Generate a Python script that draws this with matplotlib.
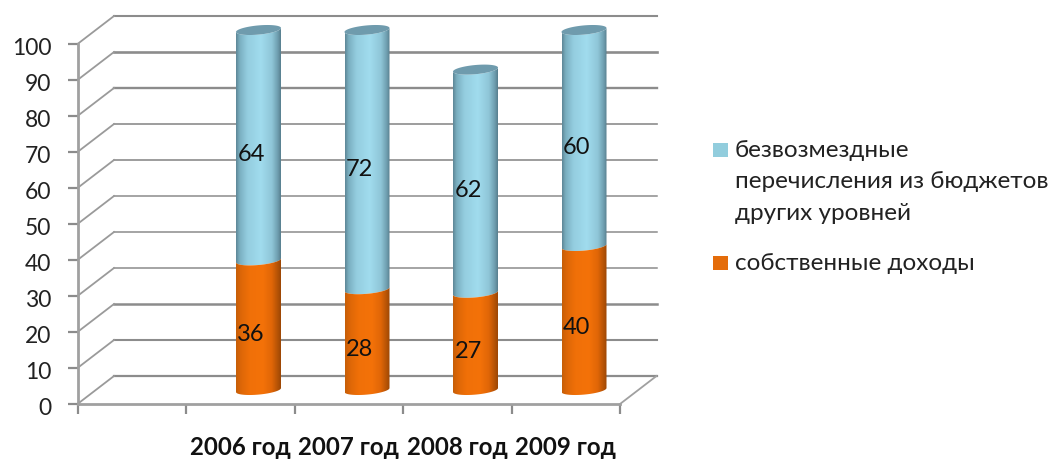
import numpy as np
import matplotlib
matplotlib.use("Agg")
import matplotlib.pyplot as plt
from matplotlib.colors import LinearSegmentedColormap
from matplotlib.patches import Polygon, Rectangle
from matplotlib.transforms import ScaledTranslation

plt.rcParams['font.family'] = ['Lato', 'Open Sans', 'DejaVu Sans']

years = ["2006 год", "2007 год", "2008 год", "2009 год"]
own_income = [36, 28, 27, 40]
transfers = [64, 72, 62, 60]
y_ticks = list(range(0, 101, 10))
transfers_label = "безвозмездные\nперечисления из бюджетов\nдругих уровней"
own_label = "собственные доходы"

W, H = 1053, 459
fig = plt.figure(figsize=(W / 100, H / 100), dpi=100)
# передняя плоскость диаграммы, в пикселях: x 77.5-620, y 44-404
ax = fig.add_axes([77.5 / W, 1 - 404 / H, 542.5 / W, 360 / H])
ax.set_xlim(0, 5)
ax.set_ylim(0, 100)
ax.patch.set_visible(False)

# глубина 3D в единицах данных
depth_x = 36.5 / 108.5
depth_y = 28 / 3.6

grid_col = "#8c8c8c"
grid_w = [1.6, 1.5, 1.8, 1.1, 1.1, 1.1, 1.2, 1.2, 1.7, 1.9, 1.5]
for v, lw in zip(y_ticks, grid_w):
    ax.plot([depth_x, 5 + depth_x], [v + depth_y, v + depth_y],
            color=grid_col, lw=lw, clip_on=False, zorder=1)
    ax.plot([0, depth_x], [v, v + depth_y], color="#9a9a9a", lw=1.3, clip_on=False, zorder=1)
ax.plot([5, 5 + depth_x], [0, depth_y], color="#a0a0a0", lw=1.3, clip_on=False, zorder=1)

for side in ["top", "right"]:
    ax.spines[side].set_visible(False)
for side in ["left", "bottom"]:
    ax.spines[side].set_color("#a0a0a0")
    ax.spines[side].set_linewidth(2)

ax.set_yticks(y_ticks)
ax.tick_params(axis="y", length=7, width=1.6, color="#8c8c8c", pad=12, labelsize=16.5, labelcolor="#222222")
# подписи оси y чуть ниже делений
for lab in ax.get_yticklabels():
    lab.set_transform(lab.get_transform() + ScaledTranslation(0, -2.5 / 100, fig.dpi_scale_trans))
ax.set_xticks(np.arange(len(years)) + 1.5)
ax.set_xticklabels(years, fontweight="bold", fontsize=17.3, color="#111111")
ax.tick_params(axis="x", which="major", length=0, pad=23)
ax.set_xticks(np.arange(6), minor=True)
ax.tick_params(axis="x", which="minor", length=7, width=1.6, color="#8c8c8c")

blue_cm = LinearSegmentedColormap.from_list("b", [(0, "#5e8797"), (.08, "#7aafc0"), (.25, "#94cddf"),
                                                  (.55, "#a1dcee"), (.8, "#8fc6d8"), (.93, "#6f9fb0"), (1, "#587f8f")])
orange_cm = LinearSegmentedColormap.from_list("o", [(0, "#c65e08"), (.1, "#dc6607"), (.3, "#f07008"),
                                                    (.6, "#f47209"), (.8, "#e06607"), (.92, "#b85406"), (1, "#9c4705")])
ramp = np.linspace(0, 1, 128).reshape(1, -1)

rx = 22.5 / 108.5
ry = 4.6 / 3.6
tilt = 0.55


def arc(xc, yc, t):
    return np.column_stack([xc + rx * np.cos(t), yc + ry * np.sin(t) + tilt * np.cos(t)])


def cylinder(xc, y0, y1, cmap):
    # нижняя дуга снизу и передняя дуга сверху
    t = np.linspace(np.pi, 2 * np.pi, 40)
    outline = np.vstack([arc(xc, y0, t), arc(xc, y1, t[::-1])])
    im = ax.imshow(ramp, cmap=cmap, aspect="auto", zorder=3, vmin=0, vmax=1,
                   extent=[xc - rx, xc + rx, y0 - 3, y1 + 3], interpolation="bilinear")
    im.set_clip_box(fig.bbox)
    im.set_clip_path(Polygon(outline, transform=ax.transData))


for i, (own, tr) in enumerate(zip(own_income, transfers)):
    xc = i + 1.5 + depth_x / 2
    base = depth_y / 2
    cylinder(xc, base + own, base + own + tr, blue_cm)
    cylinder(xc, base, base + own, orange_cm)
    top = arc(xc, base + own + tr, np.linspace(0, 2 * np.pi, 80))
    ax.add_patch(Polygon(top, fc="#6f9bad", ec="none", zorder=4, clip_on=False))
    ax.text(i + 1.6, own / 2 + 1.2, str(own), ha="center", va="center", fontsize=17, color="#111111", zorder=5)
    ax.text(i + 1.6, own + tr / 2 + 1.2, str(tr), ha="center", va="center", fontsize=17, color="#111111", zorder=5)

ax.set_xlim(0, 5)
ax.set_ylim(0, 100)

# легенда
fig.add_artist(Rectangle((713 / W, 1 - 157 / H), 15 / W, 14 / H, fc="#92cddd", ec="none", transform=fig.transFigure))
fig.add_artist(Rectangle((713 / W, 1 - 270 / H), 15 / W, 14 / H, fc="#e46c0a", ec="none", transform=fig.transFigure))
fig.text(735 / W, 1 - 182 / H, transfers_label, va="center", ha="left", fontsize=17.5, color="#222222", linespacing=1.6)
fig.text(735 / W, 1 - 263 / H, own_label, va="center", ha="left", fontsize=17.5, color="#222222")

fig.savefig("out.png", dpi=100, facecolor="white")
